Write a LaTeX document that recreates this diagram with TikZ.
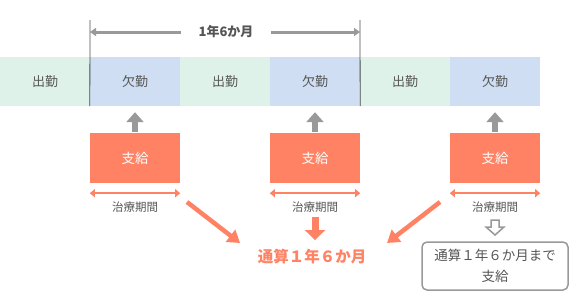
\documentclass[tikz,border=0pt]{standalone}
\usepackage{fontspec}
\setmainfont{Noto Sans CJK JP}
\usetikzlibrary{arrows.meta,calc}
\definecolor{attendfill}{RGB}{223,242,233}
\definecolor{absentfill}{RGB}{207,222,242}
\definecolor{payorange}{RGB}{255,130,100}
\definecolor{arrowgray}{RGB}{153,153,153}
\definecolor{textgray}{RGB}{85,85,85}
\tikzset{cell/.style={minimum width=90pt,minimum height=49pt,inner sep=0pt,text=textgray,
  font=\fontsize{13}{15}\selectfont},
 paybox/.style={fill=payorange,minimum width=90pt,minimum height=50pt,inner sep=0pt,text=white,
  font=\fontsize{13.5}{15}\selectfont},
 periodlabel/.style={text=textgray,inner sep=1pt,font=\fontsize{11.5}{13}\selectfont},
 uparrow/.style={arrowgray,line width=6pt,-{Triangle[width=17pt,length=10pt]}},
 period/.style={payorange,line width=1.5pt,{Triangle[width=8pt,length=5pt]}-{Triangle[width=8pt,length=5pt]}},
 downarrow/.style={payorange,line width=7pt,-{Triangle[width=20pt,length=10pt]}},
 diagarrow/.style={payorange,line width=4.5pt,-{Triangle[width=15pt,length=12pt]}},
 spanarrow/.style={arrowgray,line width=3pt,-{Triangle[width=8pt,length=6pt]}},
 tick/.style={draw=black!70,line width=.8pt}}

\begin{document}
\begin{tikzpicture}[x=1pt,y=-1pt]
\useasboundingbox (0,0) rectangle (580,300);
\foreach \i/\lab/\fillc in {1/出勤/attendfill,2/欠勤/absentfill,3/出勤/attendfill,
  4/欠勤/absentfill,5/出勤/attendfill,6/欠勤/absentfill}
  \node[cell,fill=\fillc] (c\i) at ({90*\i-45},81.5) {\lab};
% 1年6か月 span
\node[text=textgray,font=\bfseries\fontsize{13}{15}\selectfont,minimum width=90pt] (span) at (226,32) {1年6か月};
\coordinate (sl) at (90,32);
\coordinate (sr) at (360,32);
\draw[spanarrow] (span) -- (sl);
\draw[spanarrow] (span) -- (sr);
\coordinate (tl) at (90,20);
\coordinate (tr) at (360,20);
\draw[tick] (tl) -- (c2.south west);
\draw[tick] (tr) -- (c4.south east);
% 支給
\foreach \i/\c in {1/2,2/4,3/6}{
  \node[paybox] (pay\i) at ({180*\i-45},158) {支給};
  \draw[uparrow,shorten >=6pt,shorten <=1pt] (pay\i.north) -- (c\c.south);
  \draw[period] ([yshift=-10pt]pay\i.south west) -- ([yshift=-10pt]pay\i.south east);
  \node[periodlabel] (t\i) at ({180*\i-45},207) {治療期間};
}
\node[text=payorange,font=\bfseries\fontsize{15.5}{17}\selectfont] (total) at (312,257) {通算１年６か月};
\draw[downarrow,shorten <=3pt,shorten >=6pt] (t2.south) -- (t2.south |- total.north);
\coordinate (d1) at (187,202);
\coordinate (e1) at (240,243);
\coordinate (d3) at (440,202);
\coordinate (e3) at (387,243);
\draw[diagarrow] (d1) -- (e1);
\draw[diagarrow] (d3) -- (e3);
% まで支給
\coordinate (h) at (495,220);
\draw[arrowgray,line width=1.5pt,fill=white,line join=miter] (h) ++(-4,0) -- ++(0,7) -- ++(-5,0)
  -- ++(9,8) -- ++(9,-8) -- ++(-5,0) -- ++(0,-7) -- cycle;
\node[draw=arrowgray,line width=1.5pt,rounded corners=5pt,minimum width=146pt,minimum height=48pt,
  align=center,text=textgray,font=\fontsize{13.5}{21}\selectfont] (note) at (495,266)
  {通算１年６か月まで\\支給};
\end{tikzpicture}
\end{document}
